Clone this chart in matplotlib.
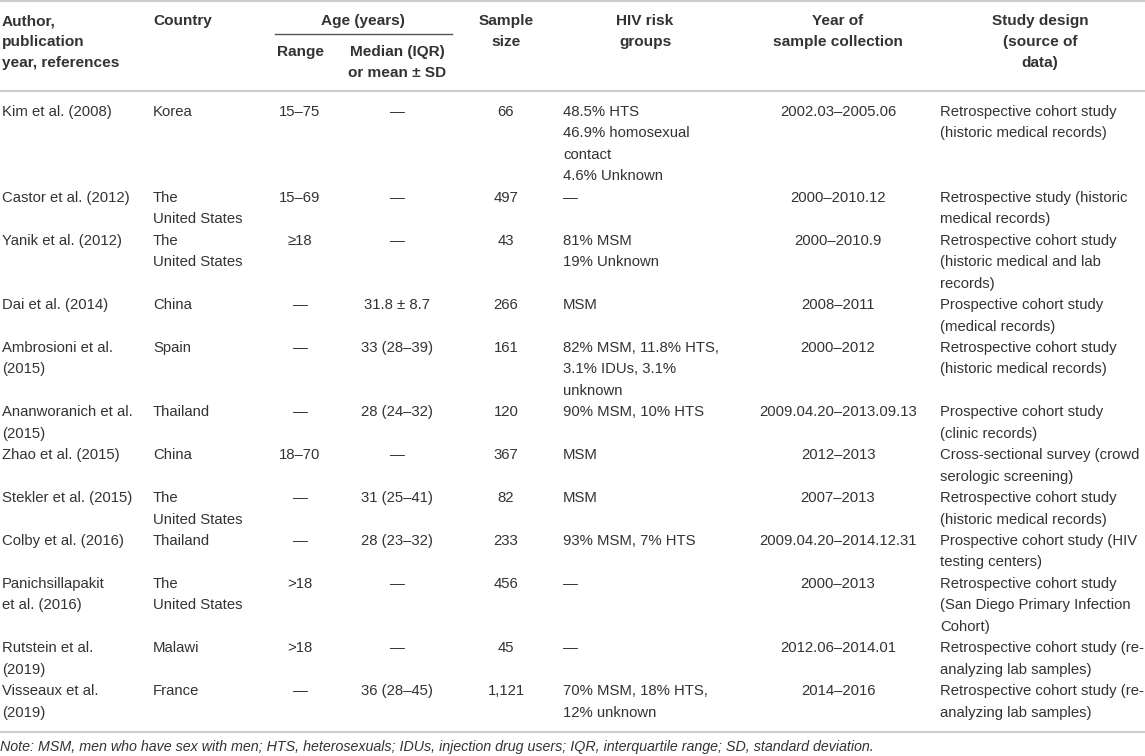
import matplotlib
matplotlib.use('Agg')
from matplotlib import pyplot as plt

plt.rcParams['font.family'] = ['Liberation Sans', 'DejaVu Sans']

# table content
authors = ["Kim et al. (2008)", "Castor et al. (2012)", "Yanik et al. (2012)", "Dai et al. (2014)",
           "Ambrosioni et al.\n(2015)", "Ananworanich et al.\n(2015)", "Zhao et al. (2015)",
           "Stekler et al. (2015)", "Colby et al. (2016)", "Panichsillapakit\net al. (2016)",
           "Rutstein et al.\n(2019)", "Visseaux et al.\n(2019)"]
countries = ["Korea", "The\nUnited States", "The\nUnited States", "China", "Spain", "Thailand",
             "China", "The\nUnited States", "Thailand", "The\nUnited States", "Malawi", "France"]
age_range = ["15–75", "15–69", "≥18", "—", "—", "—", "18–70", "—", "—", ">18", ">18", "—"]
age_median = ["—", "—", "—", "31.8 ± 8.7", "33 (28–39)", "28 (24–32)", "—", "31 (25–41)",
              "28 (23–32)", "—", "—", "36 (28–45)"]
sample_size = ["66", "497", "43", "266", "161", "120", "367", "82", "233", "456", "45", "1,121"]
risk_groups = ["48.5% HTS\n46.9% homosexual\ncontact\n4.6% Unknown", "—", "81% MSM\n19% Unknown",
               "MSM", "82% MSM, 11.8% HTS,\n3.1% IDUs, 3.1%\nunknown", "90% MSM, 10% HTS", "MSM",
               "MSM", "93% MSM, 7% HTS", "—", "—", "70% MSM, 18% HTS,\n12% unknown"]
years = ["2002.03–2005.06", "2000–2010.12", "2000–2010.9", "2008–2011", "2000–2012",
         "2009.04.20–2013.09.13", "2012–2013", "2007–2013", "2009.04.20–2014.12.31", "2000–2013",
         "2012.06–2014.01", "2014–2016"]
design = ["Retrospective cohort study\n(historic medical records)",
          "Retrospective study (historic\nmedical records)",
          "Retrospective cohort study\n(historic medical and lab\nrecords)",
          "Prospective cohort study\n(medical records)",
          "Retrospective cohort study\n(historic medical records)",
          "Prospective cohort study\n(clinic records)",
          "Cross-sectional survey (crowd\nserologic screening)",
          "Retrospective cohort study\n(historic medical records)",
          "Prospective cohort study (HIV\ntesting centers)",
          "Retrospective cohort study\n(San Diego Primary Infection\nCohort)",
          "Retrospective cohort study (re-\nanalyzing lab samples)",
          "Retrospective cohort study (re-\nanalyzing lab samples)"]
note = ("Note: MSM, men who have sex with men; HTS, heterosexuals; IDUs, injection drug users; "
        "IQR, interquartile range; SD, standard deviation.")

columns = [authors, countries, age_range, age_median, sample_size, risk_groups, years, design]
# (x, alignment) per column in pixel units
col_x = [(2, 'left'), (153, 'left'), (300, 'center'), (397, 'center'), (506, 'center'),
         (563, 'left'), (838, 'center'), (940, 'left')]

W, H = 1145, 756
fig = plt.figure(figsize=(W / 100, H / 100), dpi=100)
ax = fig.add_axes([0, 0, 1, 1])
ax.set_xlim(0, W)
ax.set_ylim(H, 0)
ax.axis('off')

txt = '#333333'
rule = '#cccccc'
fs = 10.7
hfs = 11.1
lh = 21.45


def put(x, y, s, ha, size=fs, **kw):
    for i, line in enumerate(s.split('\n')):
        ax.text(x, y + i * lh, line, ha=ha, va='center', fontsize=size, color=txt, **kw)


def head(x, y, s, ha='center'):
    for i, line in enumerate(s.split('\n')):
        ax.text(x, y + i * 21, line, ha=ha, va='center', fontsize=hfs, color=txt,
                fontweight='bold')


# header
ax.axhline(1, color=rule, lw=1.5)
head(2, 21, "Author,\npublication\nyear, references", 'left')
head(153, 21, "Country", 'left')
head(363, 21, "Age (years)")
ax.plot([275, 452], [34, 34], color='#555555', lw=1)
head(300, 52, "Range")
head(397, 52, "Median (IQR)\nor mean ± SD")
head(506, 21, "Sample\nsize")
head(645, 21, "HIV risk\ngroups")
head(838, 21, "Year of\nsample collection")
head(1040, 21, "Study design\n(source of\ndata)")
ax.axhline(91, color=rule, lw=1.5)

# body
y = 112
for r in range(len(authors)):
    nlines = 1
    for col, (x, ha) in zip(columns, col_x):
        put(x, y, col[r], ha)
        nlines = max(nlines, col[r].count('\n') + 1)
    y += nlines * lh

ax.axhline(732, color=rule, lw=1.5)
put(0, 747, note, 'left', size=10.3, fontstyle='italic')

fig.savefig('out.png', dpi=100)
